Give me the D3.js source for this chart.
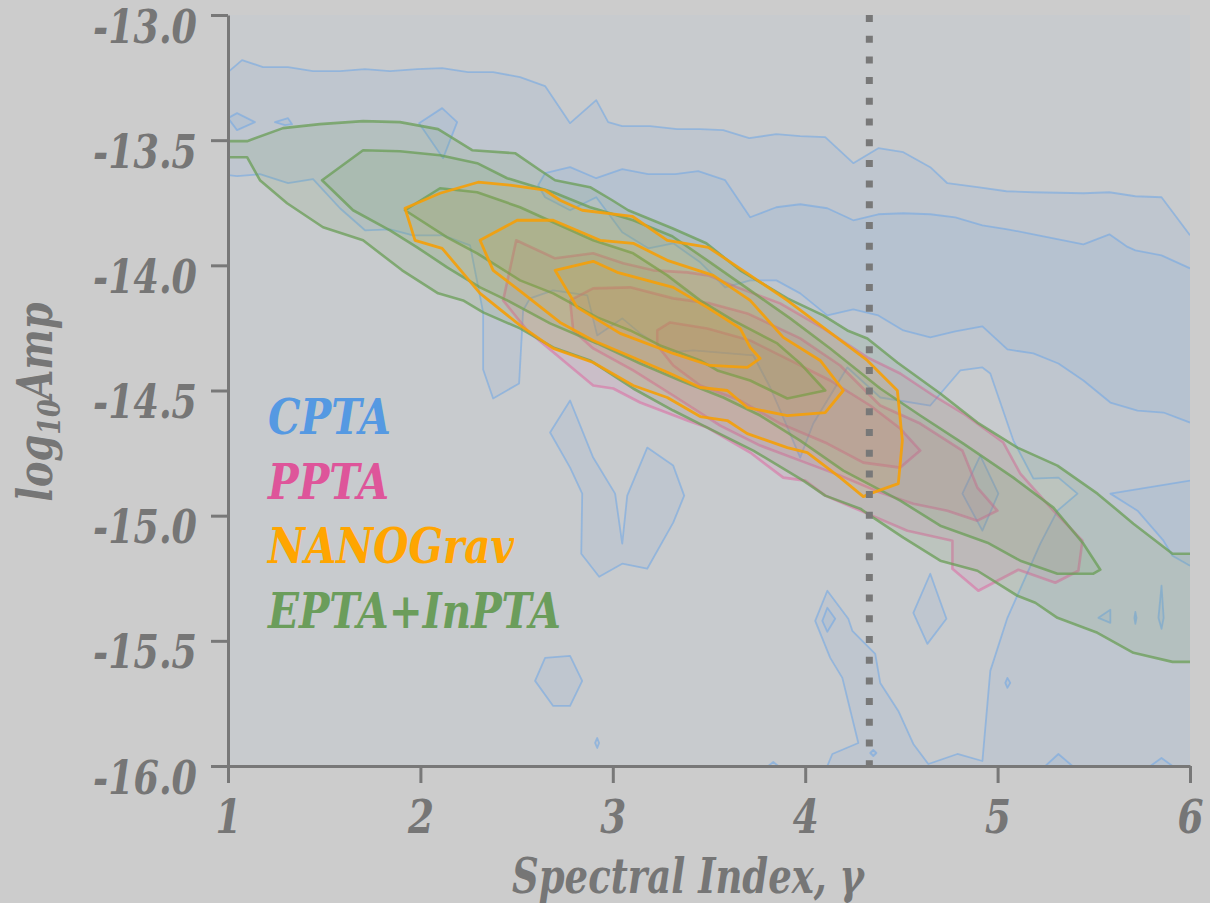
<!DOCTYPE html>
<html>
<head>
<meta charset="utf-8">
<script src="https://cdn.jsdelivr.net/npm/d3@7"></script>
<style>
  html, body { margin: 0; padding: 0; background: #cccccc; }
  svg { display: block; }
  text { font-family: "DejaVu Serif", serif; font-weight: bold; font-style: italic; }
</style>
</head>
<body>
<svg id="chart" width="1210" height="903"></svg>
<script>
// ---------- axes ----------
const xTicks = [1, 2, 3, 4, 5, 6];
const xTickLabels = ["1", "2", "3", "4", "5", "6"];
const yTicks = [-13, -13.5, -14, -14.5, -15, -15.5, -16];
const yTickLabels = ["-13.0", "-13.5", "-14.0", "-14.5", "-15.0", "-15.5", "-16.0"];
const gammaRef = 13 / 3;
const seriesNames = ["CPTA", "PPTA", "NANOGrav", "EPTA+InPTA"];

// ---------- CPTA contours [gamma, log10A] ----------
const cptaUpper = [[1.000,-13.228],[1.073,-13.180],[1.182,-13.208],[1.312,-13.208],[1.442,-13.224],[1.582,-13.224],[1.712,-13.216],[1.842,-13.224],[1.983,-13.216],[2.113,-13.212],[2.248,-13.228],[2.378,-13.228],[2.518,-13.248],[2.648,-13.284],[2.778,-13.432],[2.914,-13.340],[2.976,-13.428],[3.049,-13.444],[3.194,-13.444],[3.335,-13.456],[3.454,-13.456],[3.574,-13.460],[3.709,-13.492],[3.850,-13.476],[3.974,-13.484],[4.104,-13.488],[4.250,-13.592],[4.380,-13.532],[4.510,-13.548],[4.650,-13.608],[4.739,-13.672],[4.895,-13.688],[5.046,-13.704],[5.186,-13.708],[5.446,-13.712],[5.581,-13.708],[5.716,-13.724],[5.852,-13.728],[6.000,-13.880]];
const cptaLower = [[1.000,-13.640],[1.047,-13.644],[1.166,-13.636],[1.312,-13.672],[1.442,-13.656],[1.582,-13.772],[1.712,-13.860],[1.842,-13.856],[1.962,-13.880],[2.118,-13.880],[2.258,-13.920],[2.326,-14.188],[2.326,-14.416],[2.378,-14.532],[2.513,-14.472],[2.534,-14.180],[2.570,-14.132],[2.690,-14.100],[2.867,-14.120],[2.919,-14.280],[3.049,-14.212],[3.142,-14.272],[3.298,-14.348],[3.418,-14.340],[3.730,-14.360],[3.818,-14.488],[3.886,-14.608],[3.974,-14.768],[4.042,-14.632],[4.146,-14.500],[4.219,-14.408],[4.390,-14.528],[4.650,-14.560],[4.806,-14.420],[4.921,-14.408],[4.962,-14.432],[5.082,-14.700],[5.186,-14.852],[5.316,-14.848],[5.415,-14.912],[5.311,-14.980],[5.222,-15.112],[5.051,-15.408],[4.962,-15.620],[4.921,-15.980],[4.791,-15.952],[4.640,-15.992],[4.562,-15.912],[4.484,-15.780],[4.390,-15.668],[4.364,-15.552],[4.245,-15.460],[4.224,-15.412],[4.115,-15.300],[4.052,-15.420],[4.130,-15.568],[4.193,-15.648],[4.276,-15.908],[4.141,-15.952],[4.115,-16.000]];
const cptaBand = [[6.000,-14.628],[5.862,-14.588],[5.727,-14.580],[5.586,-14.548],[5.446,-14.460],[5.316,-14.392],[5.186,-14.352],[5.051,-14.336],[4.921,-14.244],[4.780,-14.264],[4.650,-14.288],[4.510,-14.260],[4.380,-14.200],[4.250,-14.176],[4.115,-14.200],[3.974,-14.112],[3.850,-14.060],[3.714,-14.060],[3.584,-14.088],[3.454,-13.988],[3.314,-13.912],[3.184,-13.932],[3.049,-13.868],[2.976,-13.792],[2.914,-13.728],[2.778,-13.780],[2.648,-13.728],[2.612,-13.680],[2.648,-13.632],[2.778,-13.608],[2.914,-13.652],[3.049,-13.616],[3.184,-13.636],[3.324,-13.636],[3.444,-13.624],[3.584,-13.660],[3.714,-13.808],[3.850,-13.768],[3.974,-13.756],[4.115,-13.772],[4.250,-13.820],[4.380,-13.796],[4.510,-13.792],[4.650,-13.796],[4.780,-13.808],[4.921,-13.840],[5.051,-13.856],[5.186,-13.876],[5.316,-13.896],[5.446,-13.916],[5.581,-13.876],[5.670,-13.924],[5.716,-13.940],[5.852,-13.960],[6.000,-14.012]];
const cptaWedge = [[6.000,-14.860],[5.586,-14.912],[5.727,-14.980],[5.862,-15.100],[5.909,-15.160],[6.000,-15.200]];
const cptaIslands = [
  [[1.000,-13.412],[1.047,-13.392],[1.140,-13.428],[1.047,-13.460]],
  [[1.244,-13.428],[1.312,-13.412],[1.333,-13.436],[1.296,-13.440]],
  [[1.993,-13.432],[2.113,-13.372],[2.191,-13.428],[2.118,-13.572]],
  [[2.674,-14.668],[2.778,-14.540],[2.898,-14.768],[3.012,-14.912],[3.049,-15.112],[3.075,-14.920],[3.179,-14.728],[3.314,-14.800],[3.371,-14.920],[3.314,-15.028],[3.179,-15.212],[3.049,-15.192],[2.929,-15.244],[2.836,-15.152],[2.841,-14.912],[2.778,-14.808]],
  [[2.596,-15.660],[2.648,-15.568],[2.778,-15.560],[2.841,-15.660],[2.778,-15.760],[2.690,-15.760]],
  [[2.919,-15.888],[2.929,-15.908],[2.919,-15.928],[2.908,-15.908]],
  [[4.650,-15.232],[4.734,-15.412],[4.635,-15.512],[4.562,-15.388]],
  [[4.115,-15.368],[4.156,-15.412],[4.115,-15.464],[4.089,-15.420]],
  [[5.051,-15.648],[5.066,-15.668],[5.051,-15.688],[5.040,-15.668]],
  [[4.338,-15.948],[4.354,-15.936],[4.370,-15.948],[4.354,-15.960]],
  [[4.910,-14.760],[5.004,-14.912],[4.921,-15.060],[4.817,-14.912]],
  [[5.524,-15.408],[5.586,-15.376],[5.586,-15.428]],
  [[5.711,-15.408],[5.716,-15.384],[5.722,-15.408],[5.716,-15.432]],
  [[5.852,-15.280],[5.863,-15.408],[5.852,-15.452],[5.836,-15.408]]
];
const cptaBumps = [
  [[5.248,-16.000],[5.316,-15.952],[5.389,-16.000]],
  [[5.794,-16.000],[5.852,-15.968],[5.909,-16.000]],
  [[3.808,-16.000],[3.834,-15.984],[3.860,-16.000]]
];

// ---------- PPTA contours ----------
const pptaOuter = [[2.498,-13.900],[2.700,-13.972],[2.898,-13.952],[3.054,-13.992],[3.210,-14.020],[3.387,-14.028],[3.496,-14.040],[3.647,-14.088],[3.870,-14.152],[4.094,-14.252],[4.323,-14.368],[4.494,-14.432],[4.666,-14.520],[4.822,-14.592],[5.030,-14.708],[5.118,-14.832],[5.290,-14.980],[5.441,-15.100],[5.420,-15.220],[5.300,-15.268],[5.108,-15.216],[4.900,-15.300],[4.765,-15.212],[4.765,-15.100],[4.531,-15.060],[4.286,-14.980],[4.104,-14.920],[4.000,-14.860],[3.886,-14.848],[3.714,-14.748],[3.491,-14.648],[3.387,-14.620],[3.142,-14.548],[3.002,-14.492],[2.898,-14.480],[2.711,-14.360],[2.555,-14.260],[2.430,-14.140]];
const pptaMid = [[2.778,-14.140],[2.898,-14.092],[3.090,-14.088],[3.314,-14.132],[3.506,-14.152],[3.699,-14.192],[3.974,-14.292],[4.182,-14.400],[4.390,-14.560],[4.598,-14.632],[4.817,-14.740],[4.895,-14.888],[4.999,-14.980],[4.895,-15.020],[4.739,-14.980],[4.562,-14.952],[4.390,-14.908],[4.182,-14.840],[3.974,-14.780],[3.766,-14.720],[3.558,-14.640],[3.314,-14.520],[3.106,-14.420],[2.898,-14.332],[2.794,-14.260]];
const pptaInner = [[3.231,-14.260],[3.298,-14.228],[3.491,-14.252],[3.714,-14.300],[3.922,-14.380],[4.130,-14.460],[4.338,-14.560],[4.494,-14.652],[4.598,-14.740],[4.494,-14.808],[4.302,-14.788],[4.115,-14.712],[3.870,-14.632],[3.662,-14.540],[3.454,-14.480],[3.314,-14.400],[3.231,-14.320]];

// ---------- EPTA+InPTA contours ----------
const eptaOuterUpper = [[1.000,-13.504],[1.099,-13.504],[1.286,-13.452],[1.478,-13.436],[1.702,-13.424],[1.894,-13.428],[2.092,-13.456],[2.269,-13.540],[2.492,-13.552],[2.622,-13.620],[2.700,-13.660],[2.882,-13.688],[2.997,-13.740],[3.080,-13.780],[3.309,-13.852],[3.486,-13.912],[3.662,-14.020],[3.907,-14.132],[4.094,-14.200],[4.219,-14.260],[4.323,-14.292],[4.479,-14.388],[4.702,-14.512],[4.895,-14.628],[5.103,-14.728],[5.311,-14.800],[5.519,-14.912],[5.706,-15.032],[5.909,-15.152],[6.000,-15.152]];
const eptaOuterLower = [[1.000,-13.568],[1.099,-13.568],[1.166,-13.660],[1.307,-13.752],[1.494,-13.848],[1.702,-13.900],[1.905,-14.020],[2.092,-14.112],[2.222,-14.140],[2.326,-14.188],[2.518,-14.252],[2.690,-14.328],[2.882,-14.380],[3.106,-14.492],[3.314,-14.580],[3.491,-14.648],[3.730,-14.740],[3.990,-14.860],[4.104,-14.920],[4.286,-14.972],[4.354,-15.008],[4.510,-15.088],[4.702,-15.180],[4.895,-15.220],[5.103,-15.320],[5.196,-15.348],[5.311,-15.408],[5.519,-15.468],[5.706,-15.548],[5.909,-15.584],[6.000,-15.584]];
const eptaMid = [[1.489,-13.660],[1.702,-13.540],[1.894,-13.544],[2.102,-13.560],[2.295,-13.592],[2.451,-13.652],[2.690,-13.708],[2.882,-13.768],[3.106,-13.820],[3.309,-13.884],[3.506,-13.988],[3.714,-14.100],[3.922,-14.212],[4.130,-14.332],[4.390,-14.492],[4.598,-14.600],[4.822,-14.712],[5.082,-14.848],[5.290,-14.968],[5.446,-15.112],[5.534,-15.216],[5.498,-15.232],[5.311,-15.232],[5.118,-15.180],[4.947,-15.108],[4.702,-15.040],[4.494,-14.940],[4.198,-14.820],[3.974,-14.700],[3.766,-14.600],[3.574,-14.528],[3.350,-14.460],[3.142,-14.392],[2.919,-14.312],[2.674,-14.232],[2.451,-14.140],[2.310,-14.088],[2.139,-14.008],[1.983,-13.928],[1.842,-13.860],[1.650,-13.780]];
const eptaInner = [[1.920,-13.780],[2.102,-13.692],[2.295,-13.708],[2.518,-13.768],[2.690,-13.828],[2.898,-13.900],[3.106,-13.952],[3.283,-14.040],[3.454,-14.140],[3.626,-14.220],[3.855,-14.312],[3.974,-14.392],[4.104,-14.500],[3.907,-14.532],[3.714,-14.460],[3.543,-14.420],[3.454,-14.380],[3.246,-14.320],[3.090,-14.260],[2.919,-14.208],[2.690,-14.112],[2.518,-14.060],[2.295,-13.952],[2.139,-13.888]];

// ---------- NANOGrav contours ----------
const nanoOuter = [[1.920,-13.772],[2.102,-13.712],[2.300,-13.668],[2.466,-13.680],[2.648,-13.700],[2.726,-13.740],[2.841,-13.780],[3.101,-13.804],[3.283,-13.900],[3.496,-13.928],[3.699,-14.032],[3.907,-14.140],[4.094,-14.248],[4.323,-14.380],[4.479,-14.500],[4.505,-14.700],[4.484,-14.872],[4.338,-14.912],[4.302,-14.924],[4.182,-14.848],[4.011,-14.748],[3.907,-14.728],[3.699,-14.672],[3.595,-14.620],[3.454,-14.604],[3.283,-14.528],[3.106,-14.480],[2.898,-14.388],[2.690,-14.332],[2.518,-14.240],[2.310,-14.112],[2.113,-13.932],[1.972,-13.900]];
const nanoMid = [[2.310,-13.900],[2.503,-13.820],[2.690,-13.820],[2.934,-13.900],[3.106,-13.912],[3.283,-13.980],[3.522,-14.040],[3.714,-14.140],[3.886,-14.288],[4.078,-14.380],[4.198,-14.500],[4.104,-14.588],[3.907,-14.600],[3.699,-14.568],[3.595,-14.500],[3.454,-14.488],[3.298,-14.432],[3.106,-14.368],[2.898,-14.300],[2.726,-14.228],[2.534,-14.112],[2.378,-14.020]];
const nanoInner = [[2.700,-14.020],[2.898,-13.984],[3.023,-14.028],[3.314,-14.088],[3.491,-14.168],[3.662,-14.252],[3.714,-14.328],[3.766,-14.372],[3.699,-14.408],[3.506,-14.400],[3.314,-14.352],[3.038,-14.272],[2.815,-14.168]];

// ---------- drawing ----------
const svg = d3.select("#chart");
const plot = { left: 228, right: 1190, top: 15, bottom: 766 };
const x = d3.scaleLinear().domain([1, 6]).range([plot.left, plot.right]);
const y = d3.scaleLinear().domain([-13, -16]).range([plot.top, plot.bottom]);

const line = d3.line().x(d => x(d[0])).y(d => y(d[1]));
const closed = pts => line(pts) + "Z";

const colors = {
  blue: "#4f90e0", blueLine: "#6da6e6",
  pink: "#e0609e", green: "#6a9e55", orange: "#f4a00a",
  axis: "#787878"
};

svg.append("clipPath").attr("id", "plotClip")
  .append("rect")
  .attr("x", plot.left).attr("y", plot.top)
  .attr("width", plot.right - plot.left).attr("height", plot.bottom - plot.top);

svg.append("rect")
  .attr("x", plot.left).attr("y", plot.top)
  .attr("width", plot.right - plot.left).attr("height", plot.bottom - plot.top)
  .attr("fill", "#c8cbce");

const g = svg.append("g").attr("clip-path", "url(#plotClip)");

// CPTA: outer region below the upper boundary, with the low-amplitude pocket cut out
const corner = [[6, -16], [1, -16]];
g.append("path")
  .attr("d", closed(cptaUpper.concat(corner)) + closed(cptaLower.concat([[1, -16]])))
  .attr("fill", colors.blue).attr("fill-opacity", 0.075).attr("fill-rule", "evenodd");
[cptaBand, cptaWedge].concat(cptaIslands, cptaBumps).forEach(p => {
  g.append("path").attr("d", closed(p))
    .attr("fill", colors.blue).attr("fill-opacity", 0.075);
});
[cptaUpper, cptaLower, cptaBand, cptaWedge].concat(cptaBumps).forEach(p => {
  g.append("path").attr("d", line(p))
    .attr("fill", "none").attr("stroke", colors.blueLine)
    .attr("stroke-opacity", 0.55).attr("stroke-width", 1.8).attr("stroke-linejoin", "round");
});
cptaIslands.forEach(p => {
  g.append("path").attr("d", closed(p))
    .attr("fill", "none").attr("stroke", colors.blueLine)
    .attr("stroke-opacity", 0.55).attr("stroke-width", 1.8).attr("stroke-linejoin", "round");
});

function drawLevels(levels, color, fillOp, strokeOp, width) {
  levels.forEach(p => {
    g.append("path").attr("d", closed(p))
      .attr("fill", color).attr("fill-opacity", fillOp)
      .attr("stroke", color).attr("stroke-opacity", strokeOp)
      .attr("stroke-width", width).attr("stroke-linejoin", "round");
  });
}

// PPTA
drawLevels([pptaOuter, pptaMid, pptaInner], colors.pink, 0.12, 0.5, 2.6);

// EPTA+InPTA (outer level runs off both plot edges)
g.append("path")
  .attr("d", closed(eptaOuterUpper.concat(eptaOuterLower.slice().reverse())))
  .attr("fill", colors.green).attr("fill-opacity", 0.13);
[eptaOuterUpper, eptaOuterLower].forEach(p => {
  g.append("path").attr("d", line(p)).attr("fill", "none")
    .attr("stroke", colors.green).attr("stroke-opacity", 0.75)
    .attr("stroke-width", 2.6).attr("stroke-linejoin", "round");
});
drawLevels([eptaMid, eptaInner], colors.green, 0.13, 0.75, 2.6);

// NANOGrav
drawLevels([nanoOuter, nanoMid, nanoInner], colors.orange, 0.08, 0.92, 2.8);

// gamma = 13/3 reference
svg.append("line")
  .attr("x1", x(gammaRef)).attr("x2", x(gammaRef))
  .attr("y1", plot.top).attr("y2", plot.bottom)
  .attr("stroke", colors.axis).attr("stroke-width", 7)
  .attr("stroke-dasharray", "7,13.7");

// axes
const yAxis = d3.axisLeft(y).tickValues(yTicks)
  .tickFormat((d, i) => yTickLabels[i]).tickSize(17).tickSizeOuter(0);
const xAxis = d3.axisBottom(x).tickValues(xTicks)
  .tickFormat((d, i) => xTickLabels[i]).tickSize(17).tickSizeOuter(0);

const gy = svg.append("g").attr("transform", `translate(${plot.left},0)`).call(yAxis);
const gx = svg.append("g").attr("transform", `translate(0,${plot.bottom})`).call(xAxis);
[gx, gy].forEach(ax => {
  ax.select(".domain").attr("stroke", colors.axis).attr("stroke-width", 3);
  ax.selectAll(".tick line").attr("stroke", colors.axis).attr("stroke-width", 3);
  ax.selectAll(".tick text").attr("fill", "#767676").style("font-size", "46px")
    .attr("font-family", null);
});
gy.selectAll(".tick text").attr("x", -31).attr("dy", null).attr("y", 27)
  .attr("text-anchor", "end")
  .attr("textLength", 104).attr("lengthAdjust", "spacingAndGlyphs");
gx.selectAll(".tick text").attr("y", 67).attr("dy", null)
  .attr("text-anchor", "middle")
  .attr("textLength", 26).attr("lengthAdjust", "spacingAndGlyphs");

// axis titles
svg.append("text")
  .attr("x", 688).attr("y", 893).attr("text-anchor", "middle")
  .attr("fill", "#767676").style("font-size", "48px")
  .attr("textLength", 352).attr("lengthAdjust", "spacingAndGlyphs")
  .text("Spectral Index, γ");

const yt = svg.append("text")
  .attr("transform", "translate(52,402) rotate(-90)")
  .attr("text-anchor", "middle").attr("fill", "#767676").style("font-size", "48px")
  .attr("textLength", 199).attr("lengthAdjust", "spacingAndGlyphs");
yt.append("tspan").text("log");
yt.append("tspan").attr("dy", 8).style("font-size", "32px").text("10");
yt.append("tspan").attr("dy", -8).text("Amp");

// legend
const legendColors = ["#5599e2", "#de559a", "#ffa500", "#6b9d5b"];
const legendWidths = [123, 121, 246, 293];
seriesNames.forEach((name, i) => {
  svg.append("text")
    .attr("x", 268).attr("y", 434 + i * 64.7)
    .attr("fill", legendColors[i]).style("font-size", "49px")
    .attr("textLength", legendWidths[i]).attr("lengthAdjust", "spacingAndGlyphs")
    .text(name);
});
</script>
</body>
</html>
